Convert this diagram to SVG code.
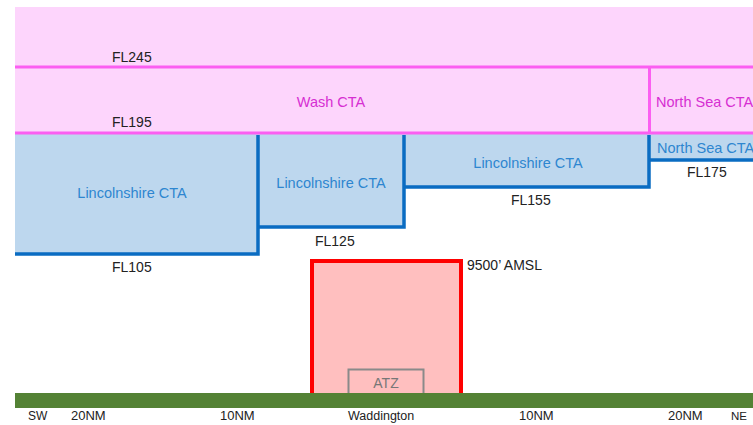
<svg xmlns="http://www.w3.org/2000/svg" width="753" height="425" viewBox="0 0 753 425">
<style>
text{font-family:"Liberation Sans",Arial,sans-serif;font-size:14px}
.k{fill:#222}
.m{fill:#d62fd2;font-size:14.5px}
.b{fill:#2e86d0;font-size:14.5px}
.pink{fill:#fdd5fc;stroke:none}
.pl{stroke:#fb5ef1;stroke-width:3;fill:none}
.bf{fill:#bdd7ee;stroke:none}
.bl{fill:none;stroke:#0a6cc2;stroke-width:3.5}
.g{font-size:13px}
</style>
<rect width="753" height="425" fill="#fff"/>
<g id="upper">
<rect class="pink" x="15" y="7" width="738" height="127"/>
<line class="pl" x1="15" y1="67" x2="753" y2="67"/>
<line class="pl" x1="649.5" y1="67" x2="649.5" y2="133"/>
<text class="k" x="112" y="62">FL245</text>
<text class="k" x="112" y="127">FL195</text>
<text class="m" x="331" y="107" text-anchor="middle">Wash CTA</text>
<text class="m" x="656" y="107">North Sea CTA</text>
</g>
<g id="lincs">
<rect class="bf" x="15" y="133" width="243" height="121"/>
<rect class="bf" x="258" y="133" width="146" height="94"/>
<rect class="bf" x="404" y="133" width="245" height="54"/>
<rect class="bf" x="649" y="133" width="104" height="27"/>
<path class="bl" d="M15 254 H258 V135" />
<path class="bl" d="M258 227 H404 V135" />
<path class="bl" d="M404 187 H649 V135" />
<path class="bl" d="M649 160 H755" />
<text class="b" x="132" y="198" text-anchor="middle">Lincolnshire CTA</text>
<text class="b" x="331" y="188" text-anchor="middle">Lincolnshire CTA</text>
<text class="b" x="528" y="168" text-anchor="middle">Lincolnshire CTA</text>
<text class="b" x="657" y="153">North Sea CTA</text>
<text class="k" x="112" y="272">FL105</text>
<text class="k" x="315" y="246">FL125</text>
<text class="k" x="511" y="205">FL155</text>
<text class="k" x="687" y="177">FL175</text>
</g>
<line class="pl" x1="15" y1="133" x2="753" y2="133"/>
<g id="mil">
<rect x="312" y="261" width="149" height="134" fill="#ffbfbf" stroke="#fe0000" stroke-width="4"/>
<text class="k" x="467" y="270">9500’ AMSL</text>
</g>
<g id="atz">
<rect x="348.5" y="369.5" width="75" height="25" fill="#ffbfbf" stroke="#8a8a8a" stroke-width="2"/>
<text x="386" y="388" text-anchor="middle" style="fill:#777">ATZ</text>
</g>
<g id="ground">
<rect x="15" y="393" width="738" height="15" fill="#548235"/>
<text class="k g" x="28" y="420" style="font-size:12px">SW</text>
<text class="k g" x="71" y="420">20NM</text>
<text class="k g" x="220" y="420">10NM</text>
<text class="k g" x="348" y="420" style="font-size:12.5px">Waddington</text>
<text class="k g" x="519" y="420">10NM</text>
<text class="k g" x="668" y="420">20NM</text>
<text class="k g" x="731" y="420" style="font-size:11.5px">NE</text>
</g>
</svg>
